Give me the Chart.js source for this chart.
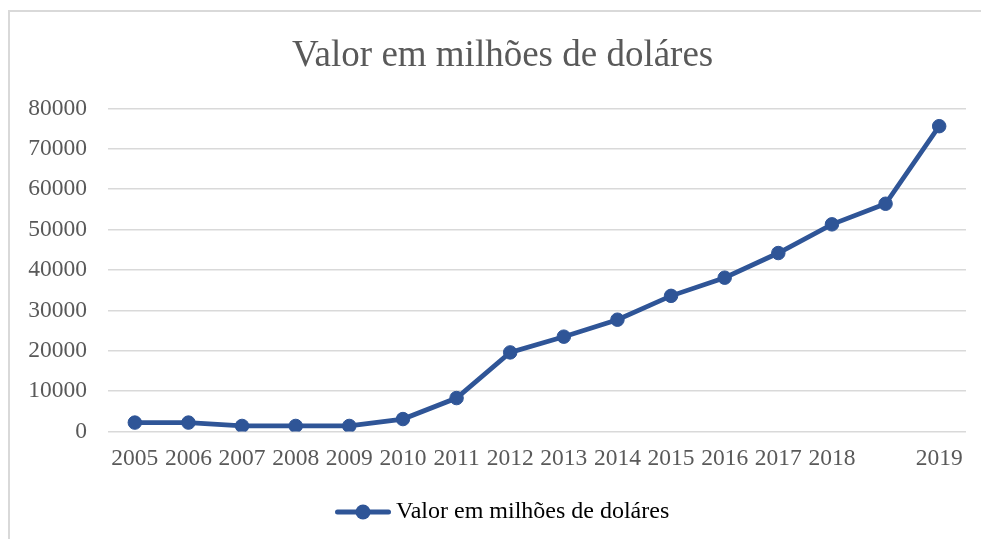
<!DOCTYPE html>
<html><head><meta charset="utf-8">
<script src="https://cdn.jsdelivr.net/npm/chart.js@4/dist/chart.umd.min.js"></script>
<style>
html,body{margin:0;padding:0;background:#fff;overflow:hidden;width:981px;height:539px;}
#frame{position:absolute;left:8px;top:10px;width:2000px;height:2000px;border-left:2px solid #d9d9d9;border-top:2px solid #d9d9d9;}
#wrap{position:absolute;left:0;top:0;width:981px;height:539px;}
</style></head><body>
<div id="frame"></div>
<div id="wrap"><canvas id="c"></canvas></div>
<script>
const chartTitle = 'Valor em milhões de doláres';
const seriesName = 'Valor em milhões de doláres';
const categories = ['2005','2006','2007','2008','2009','2010','2011','2012','2013','2014','2015','2016','2017','2018','','2019'];
const values = [2230, 2230, 1400, 1400, 1400, 3100, 8300, 19600, 23500, 27700, 33600, 38100, 44200, 51300, 56400, 75600];
const yTicks = [0, 10000, 20000, 30000, 40000, 50000, 60000, 70000, 80000];

const lineColor = '#2F5597';
const textColor = '#595959';
const gridColor = '#D9D9D9';
const fontFamily = '"Liberation Serif", "Times New Roman", serif';
const yTickPadding = 21;

// legend symbol: short line with a marker
const sym = document.createElement('canvas');
sym.width = 56; sym.height = 16;
(function(){
  const g = sym.getContext('2d');
  g.strokeStyle = lineColor; g.lineWidth = 5; g.lineCap = 'round';
  g.beginPath(); g.moveTo(2.5, 8); g.lineTo(53.5, 8); g.stroke();
  g.fillStyle = lineColor; g.beginPath(); g.arc(28, 8, 7.5, 0, Math.PI*2); g.fill();
})();

// small horizontal nudge of title and legend blocks (the original centres them slightly right)
const nudge = {
  id: 'nudge',
  afterLayout(chart) {
    if (chart.titleBlock) { chart.titleBlock.left += 5.5; chart.titleBlock.right += 5.5; }
    if (chart.legend) { chart.legend.left += 8.5; chart.legend.right += 8.5; }
  }
};

new Chart(document.getElementById('c'), {
  type: 'line',
  data: {
    labels: categories,
    datasets: [{
      label: seriesName,
      data: values,
      borderColor: lineColor,
      backgroundColor: lineColor,
      borderWidth: 4.75,
      pointRadius: 6.75,
      pointBorderWidth: 1,
      pointBackgroundColor: lineColor,
      pointBorderColor: lineColor,
      tension: 0,
      fill: false
    }]
  },
  plugins: [nudge],
  options: {
    responsive: true,
    maintainAspectRatio: false,
    animation: false,
    devicePixelRatio: 1,
    layout: { padding: { left: 28.25, right: 15, top: 34.5, bottom: 5 } },
    plugins: {
      title: {
        display: true,
        text: chartTitle,
        color: textColor,
        font: { family: fontFamily, size: 37, weight: 'normal' },
        padding: { top: 0, bottom: 29.5 }
      },
      legend: {
        display: true,
        position: 'bottom',
        labels: {
          color: textColor,
          font: { family: fontFamily, size: 24 },
          usePointStyle: true,
          pointStyleWidth: 42,
          padding: 13,
          generateLabels: (chart) => chart.data.datasets.map((ds, i) => ({
            text: ds.label,
            fillStyle: lineColor,
            strokeStyle: lineColor,
            lineWidth: 0,
            pointStyle: sym,
            datasetIndex: i,
            hidden: false
          }))
        }
      },
      tooltip: { enabled: false }
    },
    scales: {
      x: {
        offset: true,
        grid: { display: false, drawTicks: false },
        border: { display: false },
        ticks: { color: textColor, font: { family: fontFamily, size: 23.5 }, padding: 13.6, maxRotation: 0, autoSkip: false }
      },
      y: {
        min: 0,
        max: 80000,
        afterBuildTicks: (scale) => { scale.ticks = yTicks.map(v => ({ value: v })); },
        afterFit: (scale) => { scale.width -= yTickPadding; },
        grid: { color: gridColor, lineWidth: 1.5, drawTicks: false },
        border: { display: false },
        ticks: { color: textColor, font: { family: fontFamily, size: 23.5 }, padding: yTickPadding, callback: (v) => String(v) }
      }
    }
  }
});
</script>
</body></html>
